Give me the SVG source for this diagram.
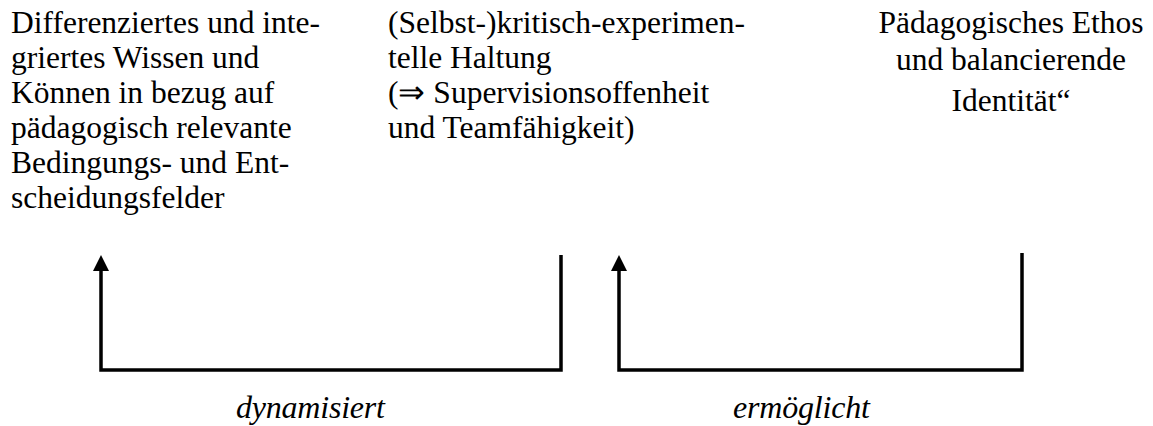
<svg xmlns="http://www.w3.org/2000/svg" width="1153" height="426" viewBox="0 0 1153 426">
<defs>
<marker id="ah" markerUnits="userSpaceOnUse" markerWidth="16" markerHeight="16" refX="9" refY="8" orient="auto" viewBox="0 0 16 16">
<path d="M0,0 L16,8 L0,16 Z" fill="#000"/>
</marker>
</defs>
<rect width="1153" height="426" fill="#fff"/>
<g id="node-wissen" font-family="Times New Roman" font-size="31.5" fill="#000">
<text x="11" y="33">Differenziertes und inte-</text>
<text x="11" y="68">griertes Wissen und</text>
<text x="11" y="103">Können in bezug auf</text>
<text x="11" y="138">pädagogisch relevante</text>
<text x="11" y="173">Bedingungs- und Ent-</text>
<text x="11" y="208">scheidungsfelder</text>
</g>
<g id="node-haltung" font-family="Times New Roman" font-size="31.5" fill="#000">
<text x="388" y="33">(Selbst-)kritisch-experimen-</text>
<text x="388" y="68">telle Haltung</text>
<text x="388" y="103">(⇒ Supervisionsoffenheit</text>
<text x="388" y="138">und Teamfähigkeit)</text>
</g>
<g id="node-ethos" font-family="Times New Roman" font-size="31.5" fill="#000" text-anchor="middle">
<text x="1011" y="33">Pädagogisches Ethos</text>
<text x="1011" y="70">und balancierende</text>
<text x="1011" y="111">Identität“</text>
</g>
<g id="connectors" fill="none" stroke="#000" stroke-width="3.5">
<path d="M561,255 V370 H101 V262" marker-end="url(#ah)"/>
<path d="M1022,253 V370 H619 V262" marker-end="url(#ah)"/>
</g>
<g id="labels" font-family="Times New Roman" font-size="32" font-style="italic" fill="#000">
<text x="236" y="418" textLength="149" lengthAdjust="spacing">dynamisiert</text>
<text x="733" y="418" textLength="137" lengthAdjust="spacing">ermöglicht</text>
</g>
</svg>
